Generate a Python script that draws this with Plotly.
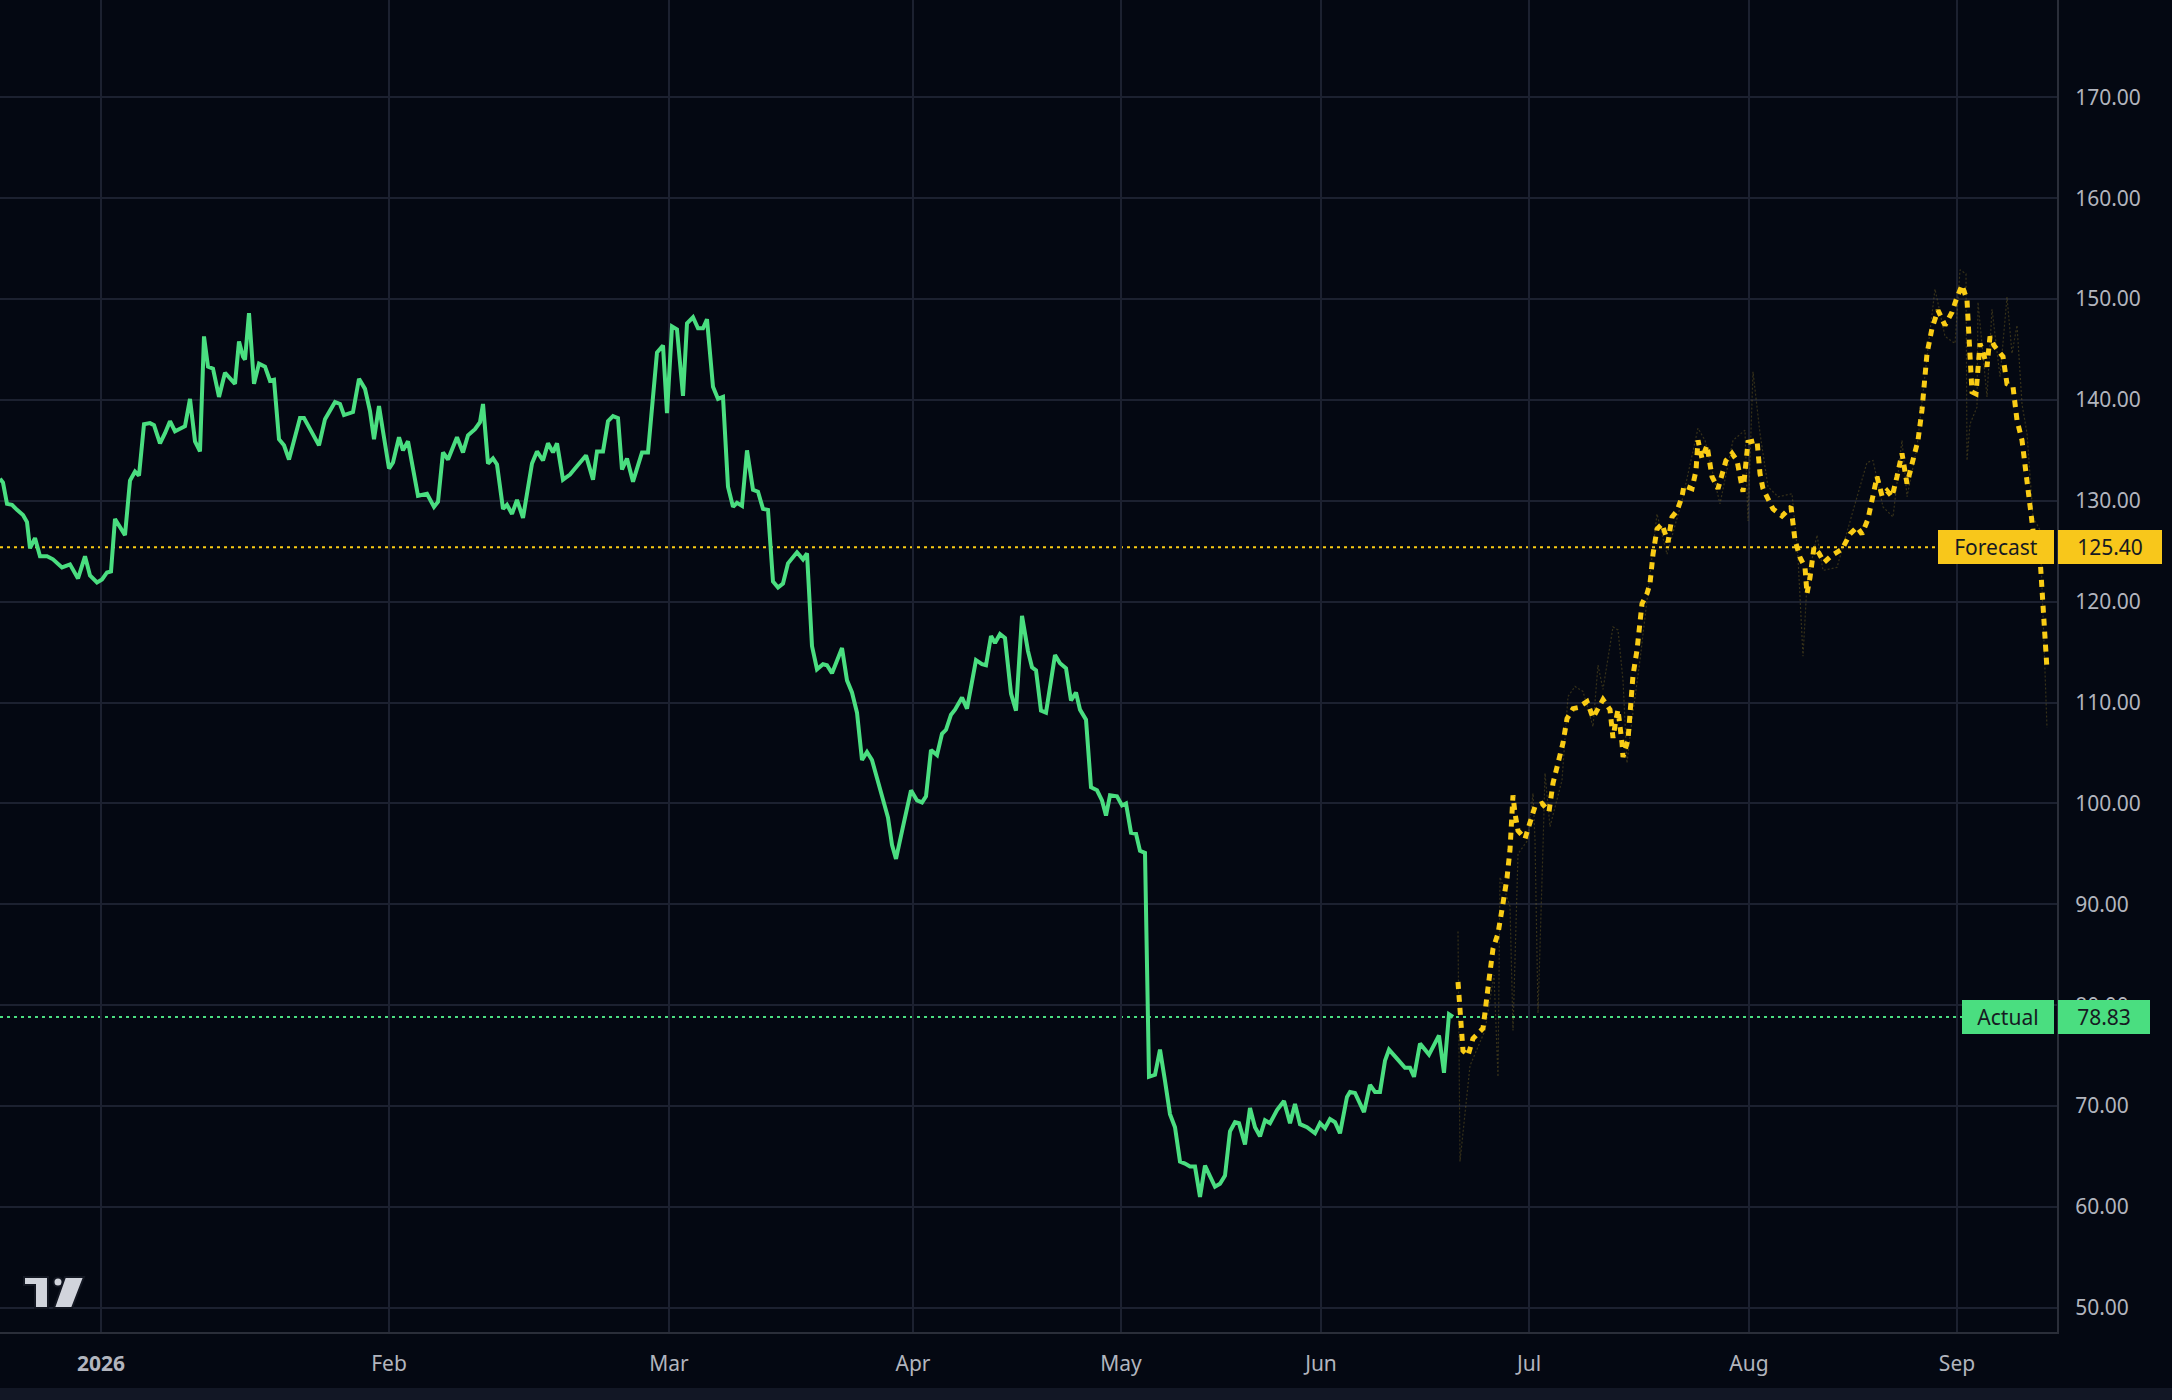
import plotly.graph_objects as go

# bar index (1 unit ~ 10 px of the original chart) and close values
ACTUAL_T = [0.0, 0.3, 0.7, 1.2, 1.7, 2.3, 2.7, 3.0, 3.5, 4.0, 4.7, 5.3, 6.2, 7.0, 7.8, 8.5, 9.0, 9.7,
            10.2, 10.7, 11.1, 11.5, 12.5, 13.0, 13.5, 13.9, 14.4, 15.0, 15.4, 16.0, 16.5, 17.0, 17.5,
            18.5, 19.0, 19.5, 20.0, 20.4, 20.8, 21.3, 21.9, 22.5, 23.5, 23.9, 24.3, 24.5, 24.9, 25.4,
            25.9, 26.5, 27.0, 27.4, 27.9, 28.4, 28.9, 29.5, 30.0, 30.4, 31.9, 32.5, 33.5, 34.0, 34.4,
            35.3, 35.9, 36.5, 37.0, 37.4, 37.9, 38.3, 38.9, 39.3, 39.9, 40.3, 40.8, 41.8, 42.7, 43.4,
            43.8, 44.3, 44.8, 45.7, 46.3, 46.8, 47.5, 48.0, 48.3, 48.8, 49.3, 49.7, 50.3, 50.7, 51.2,
            51.7, 52.3, 53.2, 53.7, 54.3, 54.8, 55.3, 55.7, 56.3, 57.0, 57.5, 58.6, 59.3, 59.7, 60.3,
            60.8, 61.3, 61.8, 62.2, 62.7, 63.3, 64.2, 64.8, 65.7, 66.3, 66.7, 67.2, 67.7, 68.3, 68.7,
            69.3, 69.8, 70.3, 70.7, 71.3, 71.8, 72.3, 72.8, 73.3, 73.7, 74.2, 74.7, 75.3, 75.8, 76.3,
            76.8, 77.3, 77.8, 78.3, 78.8, 79.7, 80.3, 80.7, 81.2, 81.7, 82.3, 82.7, 83.2, 84.2, 84.7,
            85.2, 85.7, 86.2, 86.7, 87.2, 88.3, 88.8, 89.2, 89.6, 90.3, 91.1, 91.7, 92.2, 92.6, 93.1,
            93.7, 94.2, 94.6, 95.1, 95.5, 96.2, 96.7, 97.6, 98.2, 98.6, 99.1, 99.5, 100.0, 100.5,
            101.1, 101.6, 102.2, 102.8, 103.2, 103.6, 104.1, 104.6, 105.5, 106.0, 106.6, 107.1, 107.6,
            108.0, 108.6, 109.1, 109.7, 110.2, 110.6, 111.0, 111.7, 112.2, 112.6, 113.1, 113.6, 114.0,
            114.5, 114.9, 115.5, 116.0, 116.5, 117.0, 117.5, 118.0, 118.5, 119.0, 119.5, 120.0, 120.5,
            121.5, 122.0, 122.5, 123.0, 123.5, 123.9, 124.5, 125.0, 125.5, 126.0, 126.5, 127.0, 127.7,
            128.4, 129.0, 129.5, 130.0, 130.7, 131.5, 132.0, 132.5, 133.0, 133.5, 134.0, 134.7, 135.0,
            135.5, 136.4, 137.0, 137.5, 138.0, 138.5, 138.9, 139.7, 140.5, 141.0, 141.4, 142.0, 142.9,
            143.9, 144.4, 144.9, 145.3]
ACTUAL_V = [132.2, 131.8, 129.7, 129.6, 129.1, 128.6, 127.9, 125.3, 126.3, 124.5, 124.5, 124.2, 123.4,
            123.7, 122.3, 124.5, 122.6, 121.9, 122.2, 122.9, 123.0, 128.2, 126.6, 132.0, 132.9, 132.5,
            137.6, 137.7, 137.5, 135.7, 136.7, 137.9, 136.9, 137.4, 140.1, 135.9, 134.9, 146.3, 143.3,
            143.1, 140.3, 142.7, 141.6, 145.8, 144.3, 144.0, 148.6, 141.6, 143.6, 143.3, 141.9, 142.0,
            136.1, 135.5, 134.1, 136.4, 138.2, 138.2, 135.5, 138.1, 139.8, 139.6, 138.5, 138.8, 142.1,
            141.1, 138.9, 136.1, 139.4, 136.9, 133.2, 133.8, 136.3, 135.0, 135.9, 130.5, 130.7, 129.4,
            129.9, 134.8, 134.1, 136.3, 134.8, 136.5, 137.1, 137.8, 139.6, 133.7, 134.2, 133.6, 129.2,
            129.6, 128.7, 130.1, 128.3, 133.7, 134.9, 134.0, 135.7, 134.8, 135.7, 132.1, 132.6, 133.2,
            134.5, 132.1, 134.9, 134.9, 137.9, 138.4, 138.2, 133.1, 134.2, 131.9, 134.8, 134.8, 144.7,
            145.4, 138.7, 147.3, 147.0, 140.4, 147.6, 148.2, 147.1, 147.1, 148.0, 141.3, 140.1, 140.3,
            131.4, 129.4, 129.8, 129.5, 135.0, 131.1, 130.9, 129.2, 129.1, 122.0, 121.4, 121.8, 123.8,
            124.9, 124.2, 124.8, 115.6, 113.3, 113.8, 113.7, 112.9, 115.4, 112.2, 111.0, 109.0, 104.3,
            105.1, 104.3, 100.3, 98.6, 95.9, 94.5, 97.7, 101.3, 100.3, 100.1, 100.7, 105.3, 104.8,
            106.9, 107.3, 108.8, 109.3, 110.5, 109.4, 114.2, 113.8, 113.7, 116.6, 115.9, 116.8, 116.4,
            110.9, 109.2, 118.6, 115.1, 113.5, 113.2, 109.2, 109.0, 114.7, 113.9, 113.4, 110.2, 111.0,
            109.3, 108.3, 101.6, 101.3, 100.3, 98.8, 100.8, 100.7, 99.8, 100.0, 97.1, 97.0, 95.3, 95.1,
            72.9, 73.1, 75.6, 72.5, 69.2, 67.9, 64.5, 64.3, 64.0, 64.0, 61.0, 64.1, 62.0, 62.3, 63.1,
            67.5, 68.4, 68.3, 66.2, 69.8, 67.9, 67.0, 68.6, 68.3, 69.6, 70.5, 68.3, 70.2, 68.2, 67.9,
            67.3, 68.3, 67.8, 68.7, 68.4, 67.3, 70.9, 71.4, 71.3, 69.4, 72.1, 71.4, 71.4, 74.5, 75.6,
            74.7, 73.8, 73.8, 72.9, 76.2, 75.1, 77.0, 73.3, 79.1, 78.83]

FORECAST_T = [145.8, 146.1, 146.3, 146.8, 147.3, 148.3, 148.7, 148.9, 149.3, 149.8, 150.3, 150.7,
              151.0, 151.2, 151.3, 151.5, 151.8, 152.5, 153.0, 153.5, 154.2, 154.9, 155.3, 155.8,
              156.3, 156.7, 157.3, 157.8, 158.7, 159.3, 160.3, 161.0, 161.3, 161.6, 161.8, 162.2,
              162.3, 162.8, 163.1, 163.3, 163.7, 164.0, 164.2, 164.7, 165.0, 165.3, 165.7, 166.2,
              166.8, 167.2, 167.7, 168.2, 168.4, 169.2, 169.6, 169.8, 170.2, 170.7, 171.2, 171.8,
              172.6, 173.2, 173.7, 174.3, 174.6, 174.8, 175.7, 176.0, 176.3, 176.8, 177.3, 178.2,
              179.1, 179.5, 180.0, 180.5, 180.7, 181.0, 181.4, 181.9, 182.4, 183.2, 184.2, 185.0,
              185.7, 186.2, 186.8, 187.7, 188.2, 188.7, 189.2, 189.7, 190.2, 190.7, 191.0, 191.3,
              191.8, 192.2, 192.4, 192.7, 193.2, 193.8, 194.5, 195.2, 195.6, 196.2, 196.7, 196.9,
              197.2, 197.6, 198.0, 198.4, 198.7, 199.0, 199.4, 200.3, 200.7, 201.3, 201.7, 202.2,
              202.5, 202.9, 203.3, 204.0, 204.3, 204.6, 204.7]
FORECAST_V = [82.3, 78.8, 75.5, 75.0, 76.7, 77.7, 80.5, 82.5, 85.6, 87.1, 90.1, 92.6, 95.4, 98.4,
              100.8, 99.0, 97.3, 96.5, 98.2, 99.7, 100.0, 99.2, 102.0, 104.1, 106.0, 108.4, 109.4,
              109.5, 110.1, 108.5, 110.3, 109.3, 106.5, 108.3, 109.3, 106.0, 104.6, 106.3, 109.6,
              112.7, 115.2, 117.7, 119.8, 120.8, 121.8, 124.7, 127.2, 127.7, 125.9, 128.4, 129.0,
              130.4, 131.5, 131.2, 133.0, 136.0, 134.2, 135.5, 132.4, 131.2, 134.0, 134.7, 134.0,
              130.9, 134.3, 135.8, 136.0, 132.7, 131.2, 130.2, 129.2, 128.5, 129.4, 126.1, 124.4,
              123.4, 120.8, 122.4, 125.4, 124.8, 123.9, 124.6, 125.2, 126.7, 127.4, 126.7, 128.2,
              132.4, 130.5, 131.0, 130.4, 132.4, 134.7, 131.7, 133.0, 134.3, 136.0, 139.0, 141.6,
              144.6, 147.1, 148.9, 147.4, 148.7, 149.9, 151.4, 149.9, 145.3, 140.8, 140.6, 145.6,
              144.4, 143.3, 146.3, 145.4, 144.3, 141.6, 141.3, 138.0, 136.0, 133.3, 130.0, 127.1,
              124.4, 119.8, 116.1, 113.3]

# faint raw model output behind the smoothed forecast
RAW_T = [145.8, 146.0, 147.0, 148.5, 149.4, 149.8, 150.0, 151.0, 151.3, 151.8, 152.8, 153.3, 153.5,
         153.8, 154.3, 154.5, 155.0, 155.5, 156.2, 156.8, 157.5, 158.3, 159.3, 159.8, 160.3, 161.3,
         161.8, 162.3, 162.7, 163.2, 164.0, 165.7, 166.7, 168.3, 169.8, 170.5, 172.0, 173.3, 174.5,
         174.8, 175.3, 176.0, 176.8, 177.8, 179.2, 179.8, 180.3, 180.7, 181.7, 182.3, 183.7, 185.3,
         186.7, 187.3, 188.3, 189.3, 190.2, 190.7, 191.7, 192.7, 193.5, 194.5, 195.5, 196.0, 196.6,
         196.7, 197.0, 197.7, 197.8, 198.7, 199.2, 200.0, 200.7, 201.2, 201.7, 202.2, 202.7, 203.3,
         204.0, 204.7]
RAW_V = [87.3, 64.5, 74.0, 77.5, 83.0, 72.9, 92.7, 89.8, 77.5, 95.0, 96.4, 101.0, 96.4, 79.2, 95.7,
         103.0, 97.7, 99.7, 102.3, 110.6, 111.6, 111.1, 107.6, 113.7, 111.3, 117.5, 117.2, 112.2,
         104.0, 108.3, 114.2, 128.7, 124.7, 130.4, 137.2, 136.0, 129.7, 136.0, 137.0, 128.0, 142.8,
         136.7, 131.4, 130.4, 130.7, 124.4, 114.6, 121.8, 126.6, 123.1, 123.4, 129.0, 133.8, 134.0,
         129.4, 128.4, 136.0, 130.4, 135.3, 144.3, 151.0, 146.3, 145.6, 152.9, 152.5, 134.0, 137.6,
         139.3, 149.7, 140.3, 149.0, 142.3, 150.2, 144.6, 147.4, 139.6, 136.7, 128.4, 127.1, 107.5]

ACTUAL_LAST = 78.83
FORECAST_LEVEL = 125.40

MONTH_POS = [10.1, 38.9, 66.9, 91.3, 112.1, 132.1, 152.9, 174.9, 195.7]
MONTH_LABELS = ["<b>2026</b>", "Feb", "Mar", "Apr", "May", "Jun", "Jul", "Aug", "Sep"]
Y_TICKS = [50, 60, 70, 80, 90, 100, 110, 120, 130, 140, 150, 160, 170]

BG = "#040812"
GRID = "#1c2130"
AXIS = "#2a2e39"
TXT = "#b2b5be"
GREEN = "#4ade80"
YELLOW = "#facc15"
FONT = "Noto Sans"

W, H = 2172, 1400
ML, MR, MT, MB = 0, 115, 0, 68
PW, PH = W - ML - MR, H - MT - MB

fig = go.Figure()
fig.add_trace(go.Scatter(x=RAW_T, y=RAW_V, mode="lines",
                         line=dict(color="rgba(150,125,40,0.35)", width=1.2, dash="2px,2px"),
                         hoverinfo="skip"))
fig.add_trace(go.Scatter(x=ACTUAL_T, y=ACTUAL_V, mode="lines",
                         line=dict(color=GREEN, width=4)))
fig.add_trace(go.Scatter(x=FORECAST_T, y=FORECAST_V, mode="lines",
                         line=dict(color=YELLOW, width=5, dash="7px,6px")))

# last value price lines
for lvl, col in [(ACTUAL_LAST, GREEN), (FORECAST_LEVEL, YELLOW)]:
    fig.add_shape(type="line", xref="paper", yref="y", x0=0, x1=1, y0=lvl, y1=lvl,
                  line=dict(color=col, width=2, dash="3px,4px"), layer="below")


def pp(xp, yp):
    # pixel -> paper coords (for the corner logo)
    return xp / PW, (PH - yp) / PH


def path(pts):
    s = ""
    for i, (a, b) in enumerate(pts):
        u, v = pp(a, b)
        s += ("M" if i == 0 else "L") + f"{u:.5f},{v:.5f} "
    return s + "Z"


LOGO = "#d1d4dc"
fig.add_shape(type="path", xref="paper", yref="paper",
              path=path([(24, 1277), (48, 1277), (48, 1308), (35, 1308), (35, 1285), (24, 1285)]),
              fillcolor=LOGO, line=dict(color="#131722", width=2))
cx0, cy0 = pp(53.5, 1277.5)
cx1, cy1 = pp(62.5, 1286.5)
fig.add_shape(type="circle", xref="paper", yref="paper", x0=cx0, x1=cx1, y0=cy0, y1=cy1,
              fillcolor=LOGO, line=dict(color="#131722", width=2))
fig.add_shape(type="path", xref="paper", yref="paper",
              path=path([(65, 1277), (84, 1277), (72, 1308), (54, 1308)]),
              fillcolor=LOGO, line=dict(color="#131722", width=2))

# bottom strip of the time scale
s0 = pp(0, 1388)
s1 = pp(W, H)
fig.add_shape(type="rect", xref="paper", yref="paper", x0=0, x1=s1[0], y0=s1[1], y1=s0[1],
              fillcolor="#121725", line=dict(width=0), layer="below")


def tag(text, lvl, col, x, anchor, width):
    fig.add_annotation(x=x, xref="paper", y=lvl, yref="y", xanchor=anchor, yanchor="middle",
                       text=text, showarrow=False, bgcolor=col, borderwidth=0, borderpad=2,
                       width=width, height=30, align="center",
                       font=dict(family=FONT, size=21, color="#161a22"))


tag("Forecast", FORECAST_LEVEL, "#f8c71b", 2054 / PW, "right", 112)
tag(f"{FORECAST_LEVEL:.2f}", FORECAST_LEVEL, "#f8c71b", 2058 / PW, "left", 100)
tag("Actual", ACTUAL_LAST, GREEN, 2054 / PW, "right", 88)
tag(f"{ACTUAL_LAST:.2f}", ACTUAL_LAST, GREEN, 2058 / PW, "left", 88)

fig.update_layout(
    width=W, height=H,
    margin=dict(l=ML, r=MR, t=MT, b=MB),
    paper_bgcolor=BG, plot_bgcolor=BG,
    showlegend=False,
    font=dict(family=FONT, size=21, color=TXT),
    xaxis=dict(range=[0, 205.7], tickvals=MONTH_POS, ticktext=MONTH_LABELS,
               showgrid=True, gridcolor=GRID, gridwidth=1.5, zeroline=False,
               showline=True, linecolor=AXIS, linewidth=2, ticks="",
               ticklabelstandoff=12, tickfont=dict(size=21, color=TXT)),
    yaxis=dict(range=[47.6, 179.65], side="right", tickvals=Y_TICKS, tickformat=".2f",
               showgrid=True, gridcolor=GRID, gridwidth=1.5, zeroline=False,
               showline=True, linecolor=AXIS, linewidth=2, ticks="",
               ticklabelstandoff=12, tickfont=dict(size=21, color=TXT)),
)

fig.write_html("out.html", config={"displayModeBar": False},
               post_script="document.body.style.margin='0';")
